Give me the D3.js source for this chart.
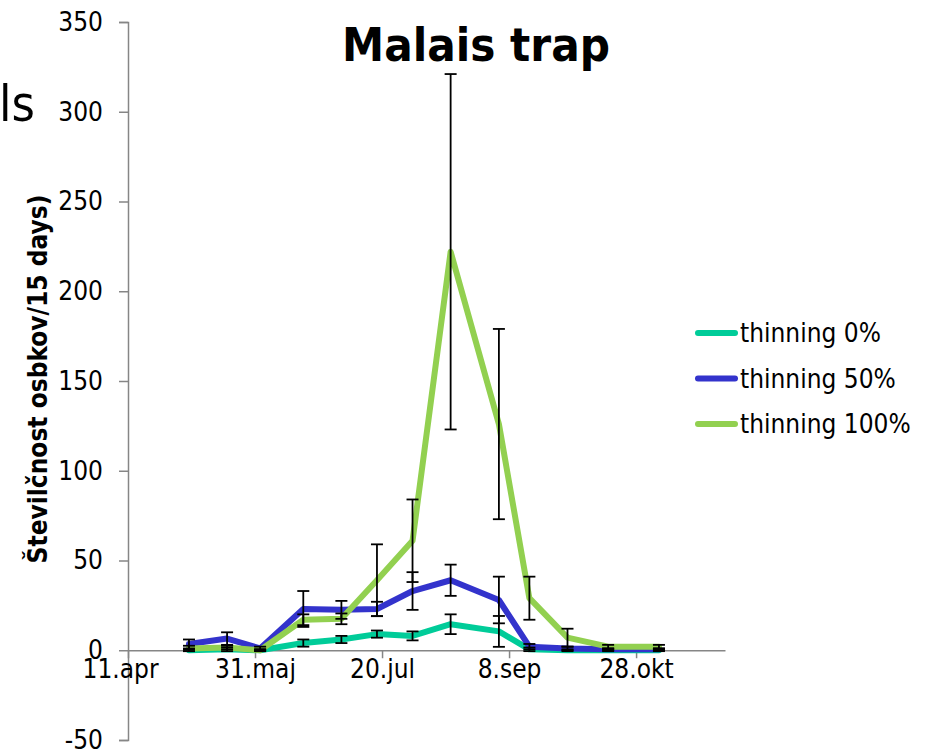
<!DOCTYPE html>
<html lang="sl">
  <head>
    <meta charset="UTF-8" />
    <title>Malais trap</title>
    <script src="https://d3js.org/d3.v7.min.js"></script>
    <style>
      body {
        margin: 0;
        background: #fff;
      }
      svg text {
        font-family: "DejaVu Sans Condensed", "DejaVu Sans", sans-serif;
        fill: #000;
      }
    </style>
  </head>
  <body>
    <div id="chart"></div>
    <script>
      // sampling dates (15-day intervals)
      const dates = [
        "2012-05-05", "2012-05-20", "2012-06-02", "2012-06-19", "2012-07-04",
        "2012-07-18", "2012-08-01", "2012-08-16", "2012-09-04", "2012-09-16",
        "2012-10-01", "2012-10-17", "2012-11-06",
      ];
      const seriesNames = ["thinning 0%", "thinning 50%", "thinning 100%"];
      const thin0 = [0, 0.5, 0, 4, 6, 9, 8, 14.5, 10.5, 0.5, 0, 0, 0];
      const thin0Err = [0.5, 1, 0.5, 2, 2, 2, 2.5, 5.5, 8.6, 1, 0.5, 0.5, 0.5];
      const thin50 = [3.5, 6.5, 1, 23, 22.5, 23, 33, 39, 28, 2, 1, 0.5, 0.5];
      const thin50Err = [2.5, 3.5, 1, 10, 5, 4, 10.5, 8.7, 13, 1.5, 1, 0.5, 0.5];
      const thin100 = [1, 1.5, 0, 17, 17.5, 39, 61, 222, 126, 29, 7, 2, 2];
      const thin100Err = [1.5, 1, 0.5, 3, 3, 20, 23, 99, 53, 12, 5, 1, 1];
      const yTicks = [-50, 0, 50, 100, 150, 200, 250, 300, 350];
      const xTickDates = ["2012-04-11", "2012-05-31", "2012-07-20", "2012-09-08", "2012-10-28"];
      const xTickLabels = ["11.apr", "31.maj", "20.jul", "8.sep", "28.okt"];

      const colors = ["#00cc99", "#3333cc", "#92d050"];

      const W = 930, H = 752;
      const parse = d3.timeParse("%Y-%m-%d");

      const svg = d3.select("#chart").append("svg")
        .attr("width", W)
        .attr("height", H);

      const x = d3.scaleTime()
        .domain([parse("2012-04-11"), parse("2012-12-02")])
        .range([128, 725]);

      const y = d3.scaleLinear()
        .domain([-50, 350])
        .range([740, 22]);

      const series = [
        {name: seriesNames[0], vals: thin0, err: thin0Err, color: colors[0]},
        {name: seriesNames[1], vals: thin50, err: thin50Err, color: colors[1]},
        {name: seriesNames[2], vals: thin100, err: thin100Err, color: colors[2]},
      ];

      // cropped slide text on the left edge
      svg.append("text")
        .attr("x", 35)
        .attr("y", 121)
        .attr("text-anchor", "end")
        .attr("font-size", "50px")
        .text("als");

      // y axis
      const yAxis = svg.append("g")
        .attr("transform", "translate(128,0)")
        .call(d3.axisLeft(y).tickValues(yTicks).tickSize(9).tickPadding(16).tickFormat((d) => String(d)));
      yAxis.select(".domain").attr("stroke", "#868686").attr("stroke-width", 1.5);
      yAxis.selectAll(".tick line").attr("stroke", "#868686").attr("stroke-width", 1.5);
      yAxis.selectAll(".tick text")
        .attr("font-size", "26px")
        .attr("font-family", null);

      // x axis at zero
      const xAxis = svg.append("g")
        .attr("transform", `translate(0,${y(0)})`)
        .call(d3.axisBottom(x)
          .tickValues(xTickDates.map(parse))
          .tickSize(8)
          .tickSizeOuter(0)
          .tickPadding(1)
          .tickFormat((d, i) => xTickLabels[i]));
      xAxis.select(".domain").attr("stroke", "#868686").attr("stroke-width", 1.5);
      xAxis.selectAll(".tick line").attr("stroke", "#868686").attr("stroke-width", 1.5);
      xAxis.selectAll(".tick text")
        .attr("font-size", "26px")
        .attr("font-family", null)
        .attr("dx", (d, i) => (i === 0 ? -8 : 0));

      // lines
      const line = d3.line()
        .x((d, i) => x(parse(dates[i])))
        .y((d) => y(d));

      series.forEach((s) => {
        svg.append("path")
          .datum(s.vals)
          .attr("fill", "none")
          .attr("stroke", s.color)
          .attr("stroke-width", 6)
          .attr("stroke-linejoin", "round")
          .attr("stroke-linecap", "round")
          .attr("d", line);
      });

      // error bars
      const cap = 6;
      series.forEach((s) => {
        const g = svg.append("g").attr("stroke", "#000").attr("stroke-width", 1.8);
        s.vals.forEach((v, i) => {
          const cx = x(parse(dates[i]));
          const top = y(v + s.err[i]);
          const bot = y(v - s.err[i]);
          g.append("line").attr("x1", cx).attr("x2", cx).attr("y1", top).attr("y2", bot);
          g.append("line").attr("x1", cx - cap).attr("x2", cx + cap).attr("y1", top).attr("y2", top);
          g.append("line").attr("x1", cx - cap).attr("x2", cx + cap).attr("y1", bot).attr("y2", bot);
        });
      });

      // title
      svg.append("text")
        .attr("x", 476)
        .attr("y", 61)
        .attr("text-anchor", "middle")
        .attr("font-size", "47px")
        .attr("font-weight", "bold")
        .text("Malais trap");

      // y axis title
      svg.append("text")
        .attr("transform", "translate(47,379) rotate(-90)")
        .attr("text-anchor", "middle")
        .attr("font-size", "26px")
        .attr("font-weight", "bold")
        .text("Številčnost osbkov/15 days)");

      // legend
      const legend = svg.append("g").attr("transform", "translate(698,333)");
      series.forEach((s, i) => {
        const row = legend.append("g").attr("transform", `translate(0,${i * 45.5})`);
        row.append("line")
          .attr("x1", 0).attr("x2", 37)
          .attr("stroke", s.color)
          .attr("stroke-width", 6)
          .attr("stroke-linecap", "round");
        row.append("text")
          .attr("x", 42)
          .attr("y", 9)
          .attr("font-size", "26px")
          .text(s.name);
      });
    </script>
  </body>
</html>
